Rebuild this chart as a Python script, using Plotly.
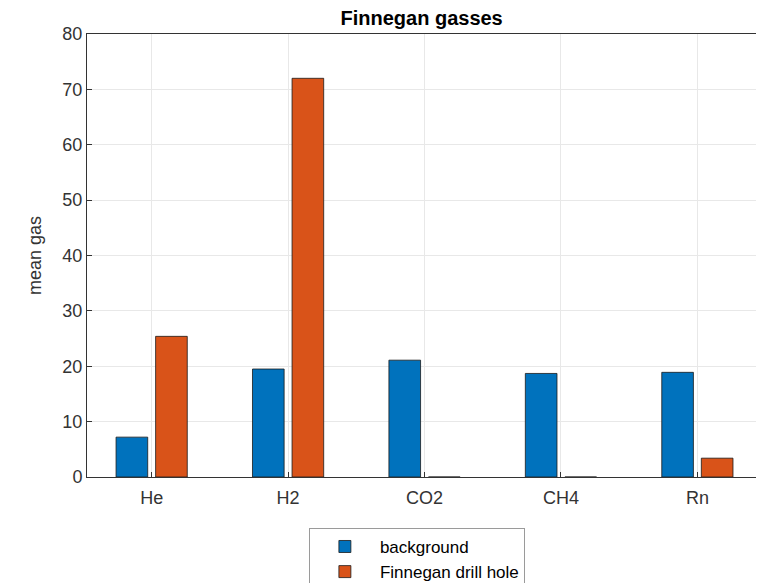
import plotly.graph_objects as go

categories = ["He", "H2", "CO2", "CH4", "Rn"]
background = [7.2, 19.5, 21.1, 18.7, 18.9]
drill_hole = [25.4, 72.0, 0, 0, 3.4]
y_ticks = [0, 10, 20, 30, 40, 50, 60, 70, 80]

FONT = "Liberation Sans, Arial, sans-serif"
AX = "#333333"

fig = go.Figure()
fig.add_trace(go.Bar(x=categories, y=background, name="background",
                     marker=dict(color="#0072BD", line=dict(color="#1a1a1a", width=0.8))))
fig.add_trace(go.Bar(x=categories, y=drill_hole, name="Finnegan drill hole",
                     marker=dict(color="#D95319", line=dict(color="#1a1a1a", width=0.8))))

fig.update_layout(
    width=764, height=583,
    margin=dict(l=79, r=9, t=26, b=114, autoexpand=False),
    paper_bgcolor="white", plot_bgcolor="white",
    barmode="group", bargap=0.42, bargroupgap=0.2,
    font=dict(family=FONT, size=18, color=AX),
    title=dict(text="<b>Finnegan gasses</b>", xref="paper", x=0.495, xanchor="center",
               yref="paper", y=1.0, yanchor="bottom", pad=dict(b=9),
               font=dict(size=20, color="black")),
    showlegend=True,
    legend=dict(x=0.488, xanchor="center", y=-0.115, yanchor="top",
                bordercolor="#9a9a9a", borderwidth=1, bgcolor="white",
                font=dict(size=17, color="black"), tracegroupgap=0,
                itemwidth=60),
)
fig.update_xaxes(range=[-0.474, 4.481], showgrid=True, gridcolor="#e8e8e8",
                 showline=True, linecolor=AX, linewidth=1, mirror=True,
                 ticks="inside", ticklen=5, tickcolor=AX, automargin=False,
                 ticklabelstandoff=4,
                 tickfont=dict(size=18, color=AX))
fig.update_yaxes(range=[0, 80], tickvals=y_ticks, showgrid=True, gridcolor="#e8e8e8",
                 showline=True, linecolor=AX, linewidth=1, mirror=True,
                 ticks="inside", ticklen=5, tickcolor=AX, zeroline=False, automargin=False,
                 tickfont=dict(size=18, color=AX),
                 title=dict(text="mean gas", font=dict(size=18, color=AX), standoff=16))

fig.write_html("out.html")
